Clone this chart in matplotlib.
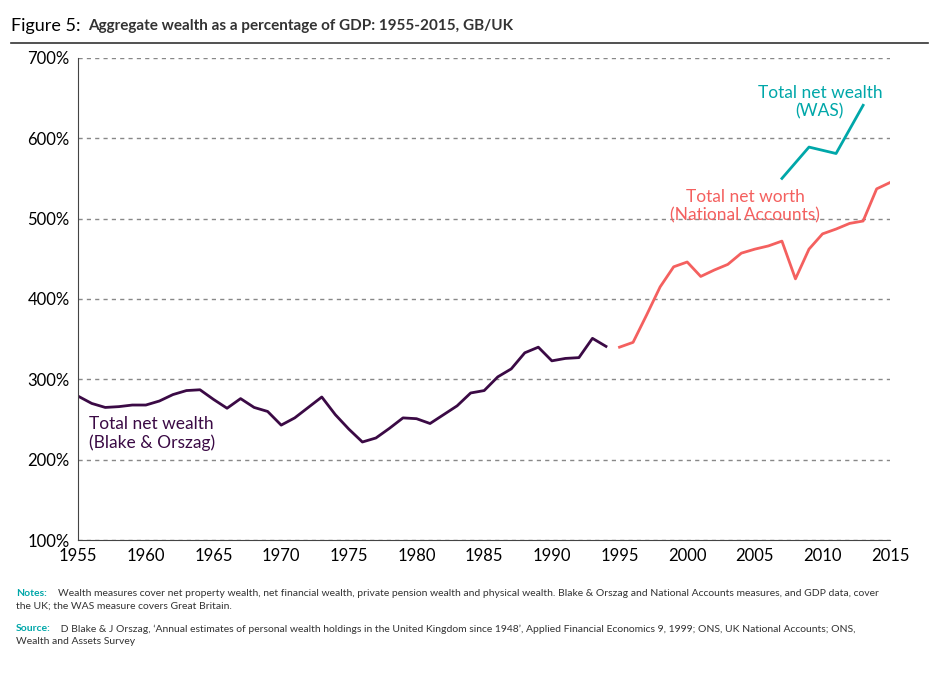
import matplotlib.pyplot as plt
from matplotlib.lines import Line2D

plt.rcParams['font.family'] = ['Lato', 'DejaVu Sans']

bo_years = list(range(1955, 1995))
bo_vals = [279, 270, 265, 266, 268, 268, 273, 281, 286, 287, 275, 264, 276, 265, 260,
           243, 252, 265, 278, 256, 238, 222, 227, 239, 252, 251, 245, 256, 267, 283,
           286, 303, 313, 333, 340, 323, 326, 327, 351, 341]
na_years = list(range(1995, 2016))
na_vals = [340, 346, 380, 415, 440, 446, 428, 436, 443, 457, 462, 466, 472, 425, 462,
           481, 487, 494, 497, 537, 545]
was_years = [2007, 2009, 2011, 2013]
was_vals = [550, 589, 581, 641]

purple = '#3b0a45'
red = '#f4605f'
teal = '#00a7a9'

fig = plt.figure(figsize=(9.42, 6.81), dpi=100)
ax = fig.add_axes([0.083, 0.207, 0.862, 0.708])

ax.plot(bo_years, bo_vals, color=purple, lw=2)
ax.plot(na_years, na_vals, color=red, lw=2)
ax.plot(was_years, was_vals, color=teal, lw=2)

ax.set_xlim(1955, 2015)
ax.set_ylim(100, 700)
ax.set_xticks(range(1955, 2016, 5))
ax.set_yticks(range(100, 701, 100))
ax.set_yticklabels([f'{v}%' for v in range(100, 701, 100)])
ax.tick_params(labelsize=12, length=0, pad=6)
ax.yaxis.grid(True, ls=(0, (3, 3)), color='#888888', lw=1)
for s in ['top', 'right']:
    ax.spines[s].set_visible(False)
ax.spines['left'].set_color('#444444')
ax.spines['bottom'].set_color('#444444')

ax.text(1955.8, 233, 'Total net wealth\n(Blake & Orszag)', color=purple, fontsize=12.5,
        va='center', ha='left', linespacing=1.2)
ax.text(2004.3, 515, 'Total net worth\n(National Accounts)', color=red, fontsize=12.5,
        va='center', ha='center', linespacing=1.2)
ax.text(2009.8, 645, 'Total net wealth\n(WAS)', color=teal, fontsize=12.5,
        va='center', ha='center', linespacing=1.2)

fig.text(0.012, 0.962, 'Figure 5:', fontsize=13, va='center')
fig.text(0.093, 0.962, 'Aggregate wealth as a percentage of GDP: 1955-2015, GB/UK',
         fontsize=11, fontweight='bold', va='center', color='#333333')
fig.add_artist(Line2D([0.012, 0.985], [0.937, 0.937], color='#333333', lw=1.2))

fig.text(0.017, 0.135, 'Notes:', fontsize=7.5, color=teal, fontweight='bold', va='top')
fig.text(0.017, 0.135, '                Wealth measures cover net property wealth, net financial wealth, private pension wealth and physical wealth. Blake & Orszag and National Accounts measures, and GDP data, cover\nthe UK; the WAS measure covers Great Britain.',
         fontsize=7.5, color='#333333', va='top', linespacing=1.5)
fig.text(0.017, 0.083, 'Source:', fontsize=7.5, color=teal, fontweight='bold', va='top')
fig.text(0.017, 0.083, '                 D Blake & J Orszag, \u2018Annual estimates of personal wealth holdings in the United Kingdom since 1948\u2019, Applied Financial Economics 9, 1999; ONS, UK National Accounts; ONS,\nWealth and Assets Survey',
         fontsize=7.5, color='#333333', va='top', linespacing=1.5)

fig.savefig('out.png', dpi=100, facecolor='white')
